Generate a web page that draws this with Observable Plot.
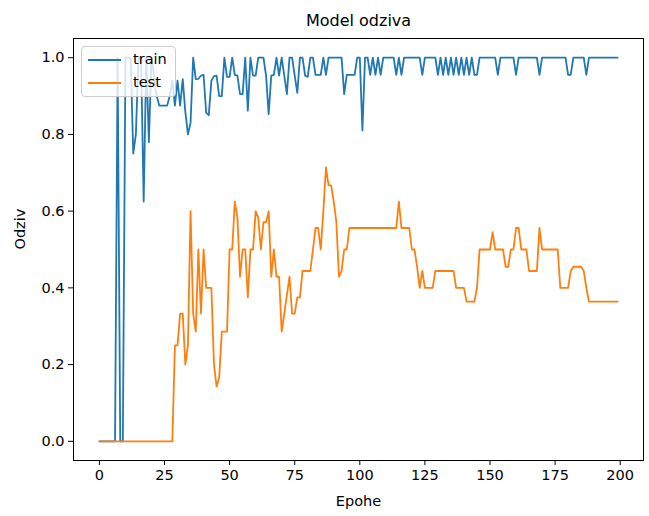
<!DOCTYPE html>
<html><head><meta charset="utf-8">
<script src="https://cdn.jsdelivr.net/npm/d3@7"></script>
<script src="https://cdn.jsdelivr.net/npm/@observablehq/plot@0.6"></script>
<style>
body{margin:0;background:#fff;font-family:"DejaVu Sans",sans-serif;}
#wrap{position:relative;width:649px;height:516px;}
#legend{position:absolute;left:81px;top:46px;width:95px;height:51px;box-sizing:border-box;
  background:rgba(255,255,255,0.8);border:1px solid #cccccc;border-radius:4px;font-size:14.5px;}
.row{position:absolute;left:0;height:20px;width:100%;}
.sw{position:absolute;left:6px;width:33px;height:2px;}
.lb{position:absolute;left:51px;top:-9px;line-height:18px;color:#000;}
</style></head><body><div id="wrap"></div>
<script>
const epochs = d3.range(200);
const train = [
 0,0,0,0,0,0,0,1,0,0,
 1,1,1,0.75,0.8,1,1,0.625,1,0.78,
 1,0.95,0.9,0.875,0.875,0.875,0.875,0.9,0.94,0.875,
 0.94,0.875,0.944,0.858,0.8,0.83,1,0.944,0.945,0.953,
 0.955,0.857,0.85,0.94,0.952,0.953,0.9,0.9,1,0.95,
 0.95,1,0.955,0.953,0.905,0.905,1,0.862,1,0.953,
 0.953,1,1,1,0.953,0.853,0.953,0.955,1,0.953,
 1,0.953,0.905,1,1,0.953,0.908,1,1,0.953,
 0.95,1,1,0.955,0.955,0.955,1,0.955,1,1,
 1,1,1,1,0.905,0.955,0.955,0.955,0.955,1,
 1,0.81,1,1,0.955,1,0.955,1,0.955,1,
 1,1,1,1,0.955,1,0.955,1,1,1,
 1,1,1,1,0.955,1,1,1,1,1,
 0.955,1,0.955,1,0.955,1,0.955,1,0.955,1,
 0.955,1,0.955,1,0.955,0.955,1,1,1,1,
 1,1,1,0.955,1,1,1,1,1,1,
 0.955,1,1,1,1,1,1,1,1,0.955,
 1,1,1,1,1,1,1,1,1,1,
 0.955,0.955,1,1,1,1,1,0.955,1,1,
 1,1,1,1,1,1,1,1,1,1
];
const test = [
 0,0,0,0,0,0,0,0,0,0,
 0,0,0,0,0,0,0,0,0,0,
 0,0,0,0,0,0,0,0,0,0.25,
 0.25,0.333,0.333,0.2,0.25,0.6,0.333,0.286,0.5,0.333,
 0.5,0.4,0.4,0.4,0.2,0.143,0.167,0.286,0.286,0.286,
 0.5,0.5,0.625,0.583,0.429,0.5,0.5,0.375,0.5,0.5,
 0.6,0.583,0.5,0.571,0.571,0.6,0.429,0.5,0.429,0.429,
 0.286,0.333,0.381,0.429,0.333,0.333,0.375,0.375,0.444,0.444,
 0.444,0.444,0.5,0.556,0.556,0.5,0.6,0.714,0.667,0.667,
 0.625,0.571,0.429,0.444,0.5,0.5,0.556,0.556,0.556,0.556,
 0.556,0.556,0.556,0.556,0.556,0.556,0.556,0.556,0.556,0.556,
 0.556,0.556,0.556,0.556,0.556,0.625,0.556,0.556,0.556,0.556,
 0.5,0.5,0.455,0.4,0.444,0.4,0.4,0.4,0.4,0.444,
 0.444,0.444,0.444,0.444,0.444,0.444,0.444,0.4,0.4,0.4,
 0.4,0.364,0.364,0.364,0.364,0.4,0.5,0.5,0.5,0.5,
 0.5,0.545,0.5,0.5,0.5,0.5,0.455,0.455,0.5,0.5,
 0.556,0.556,0.5,0.5,0.5,0.444,0.444,0.444,0.444,0.556,
 0.5,0.5,0.5,0.5,0.5,0.5,0.5,0.4,0.4,0.4,
 0.4,0.444,0.455,0.455,0.455,0.455,0.444,0.4,0.364,0.364,
 0.364,0.364,0.364,0.364,0.364,0.364,0.364,0.364,0.364,0.364
];
const xTicks = [0, 25, 50, 75, 100, 125, 150, 175, 200];
const yTicks = [0, 0.2, 0.4, 0.6, 0.8, 1.0];
const seriesNames = ["train", "test"];
const seriesColors = ["#1f77b4", "#ff7f0e"];
const titleText = "Model odziva";
const xLabel = "Epohe";
const yLabel = "Odziv";

const rows = epochs.flatMap(i => [
  {epoch: i, value: train[i], series: "train"},
  {epoch: i, value: test[i], series: "test"}
]);

const chart = Plot.plot({
  width: 649, height: 516,
  marginLeft: 73, marginRight: 6, marginTop: 38, marginBottom: 56,
  style: {fontFamily: "DejaVu Sans", fontSize: "14.5px", color: "black", background: "white"},
  x: {domain: [-9.95, 208.95]},
  y: {domain: [-0.05, 1.05]},
  color: {domain: seriesNames, range: seriesColors},
  marks: [
    Plot.axisX({ticks: xTicks, tickSize: 5, tickPadding: 4, label: null, tickFormat: d => String(d)}),
    Plot.axisY({ticks: yTicks, tickSize: 5, tickPadding: 4, label: null, tickFormat: d3.format(".1f")}),
    Plot.line(rows, {x: "epoch", y: "value", stroke: "series", z: "series", strokeWidth: 1.8}),
    Plot.frame({stroke: "black", strokeWidth: 1}),
    Plot.text([titleText], {frameAnchor: "top", dy: -24, fontSize: 16}),
    Plot.text([xLabel], {frameAnchor: "bottom", dy: 45}),
    Plot.text([yLabel], {frameAnchor: "left", dx: -53, rotate: -90})
  ]
});
const wrap = document.getElementById("wrap");
wrap.appendChild(chart);

const legend = document.createElement("div");
legend.id = "legend";
seriesNames.forEach((name, i) => {
  const row = document.createElement("div");
  row.className = "row";
  row.style.top = (i === 0 ? 12 : 35) + "px";
  const sw = document.createElement("div");
  sw.className = "sw";
  sw.style.background = seriesColors[i];
  const lb = document.createElement("div");
  lb.className = "lb";
  lb.textContent = name;
  row.appendChild(sw); row.appendChild(lb);
  legend.appendChild(row);
});
wrap.appendChild(legend);
</script>
</body></html>
